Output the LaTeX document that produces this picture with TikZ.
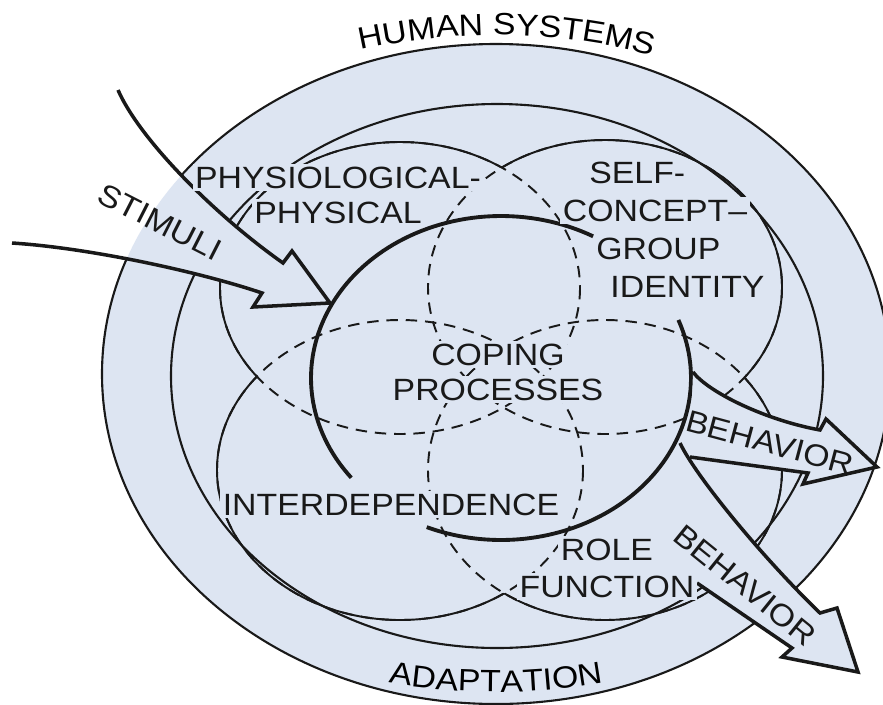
\documentclass[tikz,border=0pt]{standalone}
\usepackage{fontspec}
\setmainfont{Liberation Sans}[FakeStretch=1.1]
\usetikzlibrary{decorations.text}

\definecolor{humanbg}{RGB}{221,229,242}
\definecolor{ink}{RGB}{25,25,25}
\setlength{\fboxsep}{1.5pt}

\newcommand{\diagfont}{\fontsize{17.5}{20}\selectfont}
\newcommand{\onbg}[1]{\colorbox{humanbg}{#1}}

% the four adaptive modes
\newcommand{\ovalP}{(400,288) circle[x radius=180, y radius=146]}
\newcommand{\ovalS}{(605,287) circle[x radius=177, y radius=147]}
\newcommand{\ovalI}{(400,470) circle[x radius=183, y radius=150]}
\newcommand{\ovalR}{(605,470) circle[x radius=177, y radius=150]}
\newcommand{\wholearea}{(-20,-20) rectangle (910,730)}

% big open arrows
\newcommand{\stimpath}{(118,90) .. controls (140,140) and (215,215) .. (283,263) -- (292,251) -- (330,303) -- (253,307) -- (262,293) .. controls (200,272) and (90,248) .. (12,243)}
\newcommand{\behavtop}{(693,372) .. controls (708,392) and (765,420) .. (820,430) -- (826,419) -- (877,467) -- (803,484) -- (808,473) -- (690,457)}
\newcommand{\behavlow}{(680,443) .. controls (695,475) and (760,555) .. (820,613) -- (837,608) -- (858,672) -- (782,657) -- (792,648) -- (697,583)}

\begin{document}
\begin{tikzpicture}[x=0.02cm, y=-0.02cm, line join=miter,
    outline/.style={draw=ink, line width=1.2pt},
    modeline/.style={draw=ink, line width=1.1pt},
    dashedmode/.style={modeline, dash pattern=on 6.5pt off 4.5pt},
    coping/.style={draw=ink, line width=2.2pt},
    arrowline/.style={draw=ink, line width=2pt},
    modelabel/.style={font=\diagfont, text=ink, align=center, inner sep=0pt},
    tilted/.style={font=\diagfont, text=ink, inner sep=0pt}]

	\useasboundingbox (0,0) rectangle (883,704);

	% human system and adaptation ring
	\fill[humanbg] (496,374) circle[x radius=394, y radius=330];
	\draw[outline] (496,374) circle[x radius=394, y radius=330];
	\draw[outline] (497,376) circle[x radius=326, y radius=272];

	% modes: dashed inside another mode, solid elsewhere
	\draw[dashedmode] \ovalP;
	\draw[dashedmode] \ovalS;
	\draw[dashedmode] \ovalI;
	\draw[dashedmode] \ovalR;

	\begin{scope}[even odd rule]
		\clip \wholearea \ovalS;
		\clip \wholearea \ovalI;
		\clip \wholearea \ovalR;
		\draw[modeline] \ovalP;
	\end{scope}
	\begin{scope}[even odd rule]
		\clip \wholearea \ovalP;
		\clip \wholearea \ovalI;
		\clip \wholearea \ovalR;
		\draw[modeline] \ovalS;
	\end{scope}
	\begin{scope}[even odd rule]
		\clip \wholearea \ovalP;
		\clip \wholearea \ovalS;
		\clip \wholearea \ovalR;
		\draw[modeline] \ovalI;
	\end{scope}
	\begin{scope}[even odd rule]
		\clip \wholearea \ovalP;
		\clip \wholearea \ovalS;
		\clip \wholearea \ovalI;
		\draw[modeline] \ovalR;
	\end{scope}

	% coping processes
	\draw[coping] plot[domain=142:299, samples=80, variable=\t] ({501+190*cos(\t)}, {378+162*sin(\t)});
	\draw[coping] plot[domain=-21:113, samples=80, variable=\t] ({501+190*cos(\t)}, {378+162*sin(\t)});

	% stimuli arrow
	\fill[white] \stimpath -- cycle;
	\begin{scope}
		\clip (496,374) circle[x radius=394, y radius=330];
		\fill[humanbg] \stimpath -- cycle;
	\end{scope}
	\draw[arrowline] \stimpath;

	% behavior arrows
	\fill[humanbg] \behavtop -- cycle;
	\fill[humanbg] \behavlow -- cycle;
	\draw[arrowline] \behavtop;
	\draw[arrowline] \behavlow;

	% labels
	\path[decorate, decoration={text along path, text align=center, text={|\diagfont|HUMAN SYSTEMS}}]
		plot[domain=236.5:306.5, samples=60, variable=\t] ({496+458*cos(\t)}, {374+339*sin(\t)});
	\path[decorate, decoration={text along path, text align=center, text={|\diagfont|ADAPTATION}}]
		plot[domain=0:40, samples=40, variable=\t] ({496+450*cos(110-\t)}, {374+318*sin(110-\t)});

	\node[modelabel] (physio) at (338,195) {\onbg{PHYSIOLOGICAL-}\\\onbg{PHYSICAL}};
	\node[modelabel, align=left, anchor=west, font=\fontsize{17.5}{21.6}\selectfont] (selfcon) at (560,229.5) {
		\hspace*{15pt}\onbg{SELF-}\\
		\onbg{CONCEPT–}\\
		\hspace*{19pt}\onbg{GROUP}\\
		\hspace*{27pt}\onbg{IDENTITY}};
	\node[modelabel] (copingtext) at (498,372) {\onbg{COPING}\\\onbg{PROCESSES}};
	\node[modelabel] (interdep) at (391,504.5) {\onbg{INTERDEPENDENCE}};
	\node[modelabel, font=\fontsize{17.5}{21}\selectfont] (role) at (607,568) {\onbg{ROLE}\\\onbg{FUNCTION}};

	\node[tilted, rotate=-27] (stimuli) at (160,222) {STIMULI};
	\node[tilted, rotate=-15] (behavupper) at (770,443) {BEHAVIOR};
	\node[tilted, rotate=-39] (behavlower) at (745,585) {BEHAVIOR};
\end{tikzpicture}
\end{document}
